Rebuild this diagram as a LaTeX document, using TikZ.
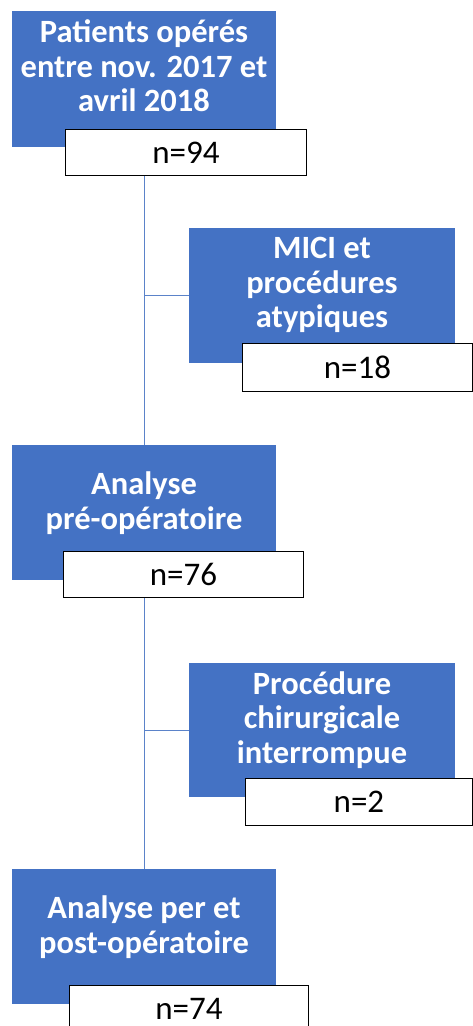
\documentclass[tikz,border=0pt]{standalone}
\usepackage{fontspec}
\setmainfont{Carlito}
\usetikzlibrary{calc}
\definecolor{officeblue}{HTML}{4472C4}
\definecolor{linkblue}{HTML}{5B83C9}
\begin{document}
\begin{tikzpicture}[x=1pt,y=-1pt,
  bluebox/.style={draw=none,fill=officeblue,anchor=north west,inner sep=0pt},
  bluetext/.style={text=white,font=\fontsize{32.5}{34.5}\selectfont\bfseries,align=center,inner sep=0pt},
  countbox/.style={draw=black,line width=0.9pt,fill=white,anchor=north west,inner sep=0pt,font=\fontsize{33}{34}\selectfont},
  link/.style={draw=linkblue,line width=1pt}]
\useasboundingbox (0,0) rectangle (473,1026);
% box 1
\node[bluebox,minimum width=264pt,minimum height=136pt] (b1) at (12,11) {};
\node[bluetext] (t1) at (144,66) {Patients opérés\\entre nov. 2017 et\\avril 2018};
\node[countbox,minimum width=241pt,minimum height=46pt] (w1) at (65,129) {n=94};
% box 2
\node[bluebox,minimum width=266pt,minimum height=135pt] (b2) at (189,228) {};
\node[bluetext] (t2) at (322,285) {MICI et\\procédures\\atypiques};
\node[countbox,minimum width=230pt,minimum height=48pt] (w2) at (242,343) {n=18};
% box 3
\node[bluebox,minimum width=264pt,minimum height=135pt] (b3) at (12,445) {};
\node[bluetext] (t3) at (144,503) {Analyse\\pré-opératoire};
\node[countbox,minimum width=240pt,minimum height=46pt] (w3) at (63,551) {n=76};
% box 4
\node[bluebox,minimum width=266pt,minimum height=134pt] (b4) at (189,663) {};
\node[bluetext] (t4) at (322,720) {Procédure\\chirurgicale\\interrompue};
\node[countbox,minimum width=227pt,minimum height=47pt] (w4) at (245,778) {n=2};
% box 5
\node[bluebox,minimum width=264pt,minimum height=135pt] (b5) at (12,869) {};
\node[bluetext] (t5) at (144,927) {Analyse per et\\post-opératoire};
\node[countbox,minimum width=239pt,minimum height=46pt] (w5) at (69,985) {n=74};
% connectors
\draw[link] (b1.south |- w1.south) -- (b3.north);
\draw[link] (b2.west) -- (b2.west -| b1.south);
\draw[link] (b3.south |- w3.south) -- (b5.north);
\draw[link] (b4.west) -- (b4.west -| b3.south);
\end{tikzpicture}
\end{document}
